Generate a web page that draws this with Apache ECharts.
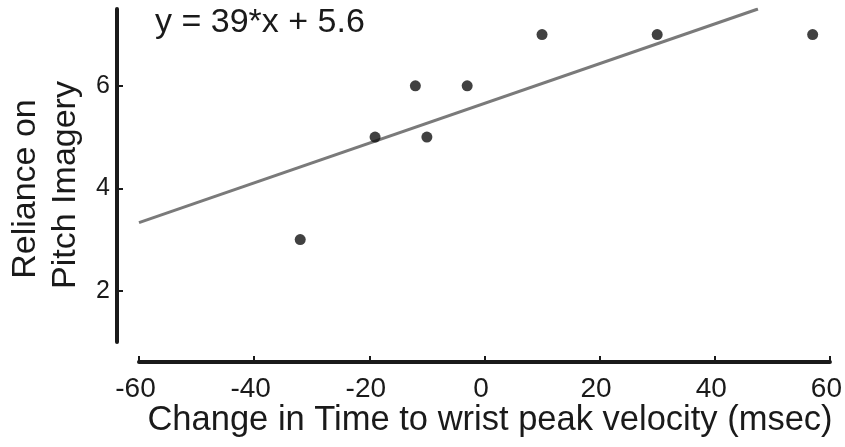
<!DOCTYPE html>
<html>
<head>
<meta charset="utf-8">
<script src="https://cdn.jsdelivr.net/npm/echarts@6/dist/echarts.min.js"></script>
<style>html,body{margin:0;padding:0;background:#fff}#c{width:845px;height:447px}</style>
</head>
<body>
<div id="c"></div>
<script>
// Data
var xValues = [-32, -19, -12, -10, -3, 10, 30, 57];
var yValues = [3, 5, 6, 5, 6, 7, 7, 7];
var fitX = [-60, 47.5];
var fitY = [3.33, 7.5];
var xTicks = [-60, -40, -20, 0, 20, 40, 60];
var yTicks = [2, 4, 6];
var equationText = 'y = 39*x + 5.6';
var xTitle = 'Change in Time to wrist peak velocity (msec)';
var yTitle1 = 'Reliance on';
var yTitle2 = 'Pitch Imagery';

var FONT = '"Liberation Sans", Arial, sans-serif';
var points = xValues.map(function (x, i) { return [x, yValues[i]]; });
var fitLine = fitX.map(function (x, i) { return [x, fitY[i]]; });

var chart = echarts.init(document.getElementById('c'), null, {renderer: 'canvas'});
chart.setOption({
  animation: false,
  backgroundColor: '#ffffff',
  grid: {left: 139, right: 13, top: 9, bottom: 105, containLabel: false},
  xAxis: {
    type: 'value', min: -60, max: 60, interval: 20,
    offset: 20,
    axisLine: {show: true, onZero: false, lineStyle: {color: '#1a1a1a', width: 4}},
    axisTick: {show: true, inside: true, length: 6, customValues: xTicks, lineStyle: {color: '#1a1a1a', width: 2}},
    axisLabel: {show: true, margin: 13, fontSize: 28, color: '#1a1a1a', fontFamily: FONT,
      customValues: xTicks, padding: [0, 7, 0, 0]},
    splitLine: {show: false}
  },
  yAxis: {
    type: 'value', min: 1, max: 7.5,
    offset: 22,
    axisLine: {show: true, onZero: false, lineStyle: {color: '#1a1a1a', width: 4}},
    axisTick: {show: true, inside: true, length: 6, customValues: yTicks, lineStyle: {color: '#1a1a1a', width: 2}},
    axisLabel: {show: true, margin: 7, fontSize: 25, color: '#1a1a1a', fontFamily: FONT,
      customValues: yTicks, padding: [6, 0, 0, 0]},
    splitLine: {show: false}
  },
  series: [
    {
      type: 'line', data: fitLine, symbol: 'none', silent: true,
      lineStyle: {color: '#7a7a7a', width: 3}, z: 2
    },
    {
      type: 'scatter', data: points, symbol: 'circle', symbolSize: 11,
      itemStyle: {color: '#111111'}, z: 3
    }
  ],
  graphic: [
    {type: 'text', left: 155, top: 6, style: {text: equationText, font: '34px ' + FONT, fill: '#1a1a1a'}},
    {type: 'text', x: 490, y: 420, style: {text: xTitle, font: '34.5px ' + FONT, fill: '#1a1a1a', align: 'center', verticalAlign: 'middle'}},
    {type: 'text', x: 26, y: 189, rotation: Math.PI / 2, style: {text: yTitle1, font: '34px ' + FONT, fill: '#1a1a1a', align: 'center', verticalAlign: 'middle'}},
    {type: 'text', x: 66, y: 185, rotation: Math.PI / 2, style: {text: yTitle2, font: '34px ' + FONT, fill: '#1a1a1a', align: 'center', verticalAlign: 'middle'}}
  ]
});
</script>
</body>
</html>
